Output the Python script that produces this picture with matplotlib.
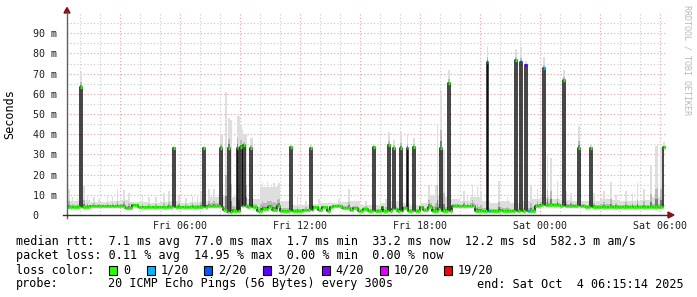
import numpy as np
import matplotlib
matplotlib.use('Agg')
import matplotlib.pyplot as plt
from matplotlib.collections import LineCollection
from matplotlib.patches import Rectangle, Polygon

# ---------------- data (hours since Fri 00:00, values in ms) ----------------
end_hour = 30.25
n_samples = 359
step_h = 5.0 / 60.0

# median rtt baseline: piecewise constant (start hour, ms)
base_hours = [0.33, 1.5, 3.25, 3.6, 3.9, 5.35, 7.35, 8.1, 8.2, 8.35, 8.6, 8.75,
              9.1, 9.3, 9.6, 9.85, 10.1, 10.4, 10.6, 10.8, 11.0, 12.2, 12.7,
              12.9, 13.1, 13.3, 13.5, 13.7, 14.1, 14.5, 14.7, 14.9, 15.2, 15.4,
              16.05, 16.15, 16.6, 16.8, 17.2, 17.3, 17.8, 18.0, 18.2, 18.4,
              18.6, 18.9, 19.05, 19.6, 20.75, 22.0, 22.1, 23.75, 24.0, 25.0,
              26.25]
base_ms = [4.1, 4.4, 3.5, 4.8, 3.8, 4.1, 4.3, 4.0, 2.4, 1.6, 2.2, 1.8,
           4.4, 4.0, 4.0, 2.0, 2.8, 3.8, 2.5, 4.3, 2.0, 2.4, 4.2,
           2.5, 3.8, 2.2, 4.0, 4.4, 3.6, 2.6, 3.4, 2.0, 3.2, 2.0,
           4.0, 2.0, 3.2, 2.2, 3.5, 2.0, 2.2, 3.8, 2.4, 4.0,
           2.2, 3.2, 2.0, 4.4, 2.0, 2.6, 2.0, 4.4, 5.0, 4.7,
           4.1]

# single-sample median spikes
spike_hours = [1.05, 5.75, 7.25, 8.05, 8.5, 8.9, 9.05, 9.25, 9.55, 11.58,
               12.58, 15.67, 16.42, 16.72, 17.05, 17.4, 17.68, 19.05, 19.5,
               21.4, 22.75, 23.08, 23.33, 24.18, 25.2, 25.92, 26.5, 30.24]
spike_ms = [63.5, 33.2, 33.2, 33.2, 33.2, 33.2, 33.5, 34.6, 33.3, 33.5,
            33.3, 33.5, 34.5, 33.3, 33.3, 33.3, 33.8, 33.3, 65.2,
            75.6, 76.7, 75.6, 74.4, 72.6, 66.8, 33.3, 33.3, 33.5]
spike_loss = [0, 0, 0, 0, 0, 0, 0, 0, 0, 0,
              0, 0, 0, 0, 0, 0, 0, 0, 0,
              1, 0, 2, 3, 1, 0, 0, 0, 0]
spike_smoke = [71, 34, 34, 40, 48, 49, 45, 40, 38, 35,
               35, 35, 41, 37, 41, 40, 38, 62, 72,
               83.7, 82, 83, 76, 78, 72, 44, 35, 36]

# baseline samples with packet loss
lossy_hours = [0.35, 21.5, 23.45]
lossy_level = [1, 1, 1]

# typical smoke top per half hour (from hour 0)
smoke_level = [8, 7, 7.5, 6.5, 6.5, 7, 7.5, 6.5, 6.5, 6, 6.5, 7, 6, 6.5, 7, 9, 10, 9, 8, 8,
               14, 14, 7, 5, 5, 5, 6, 6, 6.5, 7, 5, 5, 6, 7, 6, 5, 6, 10, 9, 8,
               7, 9, 7, 6, 7, 6, 7, 8, 9, 8, 7.5, 7, 7, 7, 8, 7.5, 7, 7, 7.5, 9,
               8]

# individual smoke peaks (hour, ms)
peak_hours = [0.45, 0.6, 0.9, 1.25, 1.4, 1.7, 2.0, 2.35, 2.6, 2.9, 3.25, 3.5, 4.1,
              4.5, 4.8, 5.25, 5.5, 6.0, 6.3, 6.6,
              6.9, 7.05, 7.5, 7.75, 8.12, 8.3, 8.58, 8.97, 9.12, 9.3, 9.62,
              10.1, 10.4, 10.7, 10.9, 11.0, 11.85, 12.3, 13.0, 14.0, 14.5, 15.3,
              16.3, 18.5, 18.8, 18.9, 19.15, 19.25, 20.2, 20.4, 20.65, 20.9,
              21.05, 21.95, 22.4, 22.8, 23.55, 23.9, 24.4, 24.55, 24.85, 25.3,
              25.5, 26.7, 27.2, 27.5, 27.8, 28.3, 28.6, 28.9, 29.2, 29.5,
              29.75, 29.9, 30.05]
peak_ms = [13, 9, 8.5, 14.5, 10, 9, 8, 10, 9.5, 13, 12.5, 11, 10,
           9, 9, 11, 12, 10, 8.5, 9.5,
           9, 12, 13, 13, 40, 61, 47, 49, 42, 40, 38,
           16, 16.5, 16, 15, 16, 9, 7, 8, 8, 13, 7,
           8, 15, 15, 45, 23, 32, 12, 10, 15, 14,
           12, 17, 9, 12, 15, 13, 29, 28, 17, 12,
           11, 11, 12, 16.5, 10, 12, 11, 16, 13, 25,
           34, 35, 33.8]

loss_colors = ['#26ff00', '#00b8ff', '#0059ff', '#5e00ff', '#7e00ff', '#dd00ff', '#ff0000']
loss_labels = ['0', '1/20', '2/20', '3/20', '4/20', '10/20', '19/20']

y_ticks = [0, 10, 20, 30, 40, 50, 60, 70, 80, 90]
y_tick_labels = ['0   ', '10 m', '20 m', '30 m', '40 m', '50 m', '60 m', '70 m', '80 m', '90 m']
x_ticks = [6, 12, 18, 24, 30]
x_tick_labels = ['Fri 06:00', 'Fri 12:00', 'Fri 18:00', 'Sat 00:00', 'Sat 06:00']

legend_rows = [
    'median rtt:  7.1 ms avg  77.0 ms max  1.7 ms min  33.2 ms now  12.2 ms sd  582.3 m am/s',
    'packet loss: 0.11 % avg  14.95 % max  0.00 % min  0.00 % now',
]
probe_text = '20 ICMP Echo Pings (56 Bytes) every 300s'
end_text = 'end: Sat Oct  4 06:15:14 2025'

# ---------------- build sample series ----------------
t0 = end_hour - n_samples * step_h
left = t0 + np.arange(n_samples) * step_h
right = left + step_h
mid = left + step_h / 2

bh = np.array(base_hours)
bv = np.array(base_ms)
idx = np.clip(np.searchsorted(bh, mid, side='right') - 1, 0, len(bv) - 1)
median = bv[idx].astype(float)
loss = np.zeros(n_samples, dtype=int)

sl = np.array(smoke_level, dtype=float)
top = sl[np.clip((mid / 0.5).astype(int), 0, len(sl) - 1)]
top = np.maximum(top, median + 1.0)

def sidx(h):
    return int(np.clip(np.floor((h - t0) / step_h), 0, n_samples - 1))

for h, v in zip(peak_hours, peak_ms):
    i = sidx(h)
    top[i] = max(top[i], v)
for h, lv in zip(lossy_hours, lossy_level):
    loss[sidx(h)] = lv
for h, v, lv, sm in zip(spike_hours, spike_ms, spike_loss, spike_smoke):
    i = sidx(h)
    median[i] = v
    loss[i] = lv
    top[i] = sm

# ---------------- figure ----------------
W, H = 697, 297
fig = plt.figure(figsize=(W / 100, H / 100), dpi=100)
fig.patch.set_facecolor('white')

def fx(x):
    return x / W

def fy(y):
    return 1 - y / H

ax = fig.add_axes([fx(67), fy(215), 600 / W, 203 / H])
ax.set_xlim(0.35, 30.35)
ax.set_ylim(0, 100.5)
for s in ax.spines.values():
    s.set_visible(False)

mono = 'DejaVu Sans Mono'
dot = (0, (1, 2))
# grid
for hh in range(1, 31):
    if hh % 3 == 0:
        ax.axvline(hh, color='#eaa0a0', lw=0.8, ls=dot, zorder=0)
    else:
        ax.axvline(hh, color='#c8c8c8', lw=0.8, ls=dot, zorder=0)
for v in range(5, 100, 5):
    if v % 10 == 0:
        ax.axhline(v, color='#eaa0a0', lw=0.8, ls=dot, zorder=0)
    else:
        ax.axhline(v, color='#c8c8c8', lw=0.8, ls=dot, zorder=0)

# smoke
lo = median
ax.bar(left, top - lo, bottom=lo, width=step_h, align='edge', color='#dedede', lw=0, zorder=1)
ax.bar(left, 0.3 * (top - median), bottom=median, width=step_h, align='edge', color='#b8b8b8', lw=0, zorder=1.1)
ax.bar(left, 0.12 * (top - median), bottom=median, width=step_h, align='edge', color='#7a7a7a', lw=0, zorder=1.2)

# median step line (black transitions) and loss coloured segments
edges = np.append(left, right[-1])
ax.step(edges, np.append(median, median[-1]), where='post', color='#111111', lw=1.1, zorder=2)
segs = [[(l, m), (r, m)] for l, r, m in zip(left, right, median)]
cols = [loss_colors[k] for k in loss]
ax.add_collection(LineCollection(segs, colors=cols, linewidths=2.3, capstyle='butt', zorder=3))

# ticks
ax.set_yticks(y_ticks)
ax.set_yticklabels(y_tick_labels, fontfamily=mono, fontsize=7.2)
ax.set_xticks(x_ticks)
ax.set_xticklabels(x_tick_labels, fontfamily=mono, fontsize=7.2)
ax.tick_params(axis='both', length=0, colors='#202020')
ax.tick_params(axis='y', pad=7)
ax.tick_params(axis='x', pad=4)

# axes lines + arrows
fig.add_artist(plt.Line2D([fx(67), fx(67)], [fy(218), fy(12)], color='#606060', lw=1))
fig.add_artist(plt.Line2D([fx(63), fx(668)], [fy(215), fy(215)], color='#303030', lw=1))
fig.add_artist(Polygon([(fx(64), fy(13)), (fx(70), fy(13)), (fx(67), fy(7.5))], closed=True,
                       transform=fig.transFigure, color='#8b1010'))
fig.add_artist(Polygon([(fx(668), fy(212)), (fx(668), fy(218)), (fx(674), fy(215))], closed=True,
                       transform=fig.transFigure, color='#8b1010'))

# labels
fig.text(fx(10), fy(114), 'Seconds', rotation=90, ha='center', va='center', fontfamily=mono, fontsize=8.5)
fig.text(fx(687), fy(60), 'RRDTOOL / TOBI OETIKER', rotation=270, ha='center', va='center',
         fontfamily=mono, fontsize=6, color='#b8b8b8')

# legend
fig.text(fx(16), fy(241), legend_rows[0], ha='left', va='center', fontfamily=mono, fontsize=8.5)
fig.text(fx(16), fy(256), legend_rows[1], ha='left', va='center', fontfamily=mono, fontsize=8.5)
fig.text(fx(16), fy(270), 'loss color:', ha='left', va='center', fontfamily=mono, fontsize=8.5)
sq_x = [109, 147, 204, 263, 321.5, 379.5, 444]
for x0, c, lab in zip(sq_x, loss_colors, loss_labels):
    fig.add_artist(Rectangle((fx(x0), fy(274.5)), 8 / W, 9 / H, transform=fig.transFigure,
                             facecolor=c, edgecolor='black', lw=0.8))
    fig.text(fx(x0 + 14), fy(270), lab, ha='left', va='center', fontfamily=mono, fontsize=8.5)
fig.text(fx(16), fy(284), 'probe:', ha='left', va='center', fontfamily=mono, fontsize=8.5)
fig.text(fx(108), fy(284), probe_text, ha='left', va='center', fontfamily=mono, fontsize=8.5)
fig.text(fx(684), fy(284), end_text, ha='right', va='center', fontfamily=mono, fontsize=8.5)

fig.savefig('out.png', dpi=100, facecolor='white')
